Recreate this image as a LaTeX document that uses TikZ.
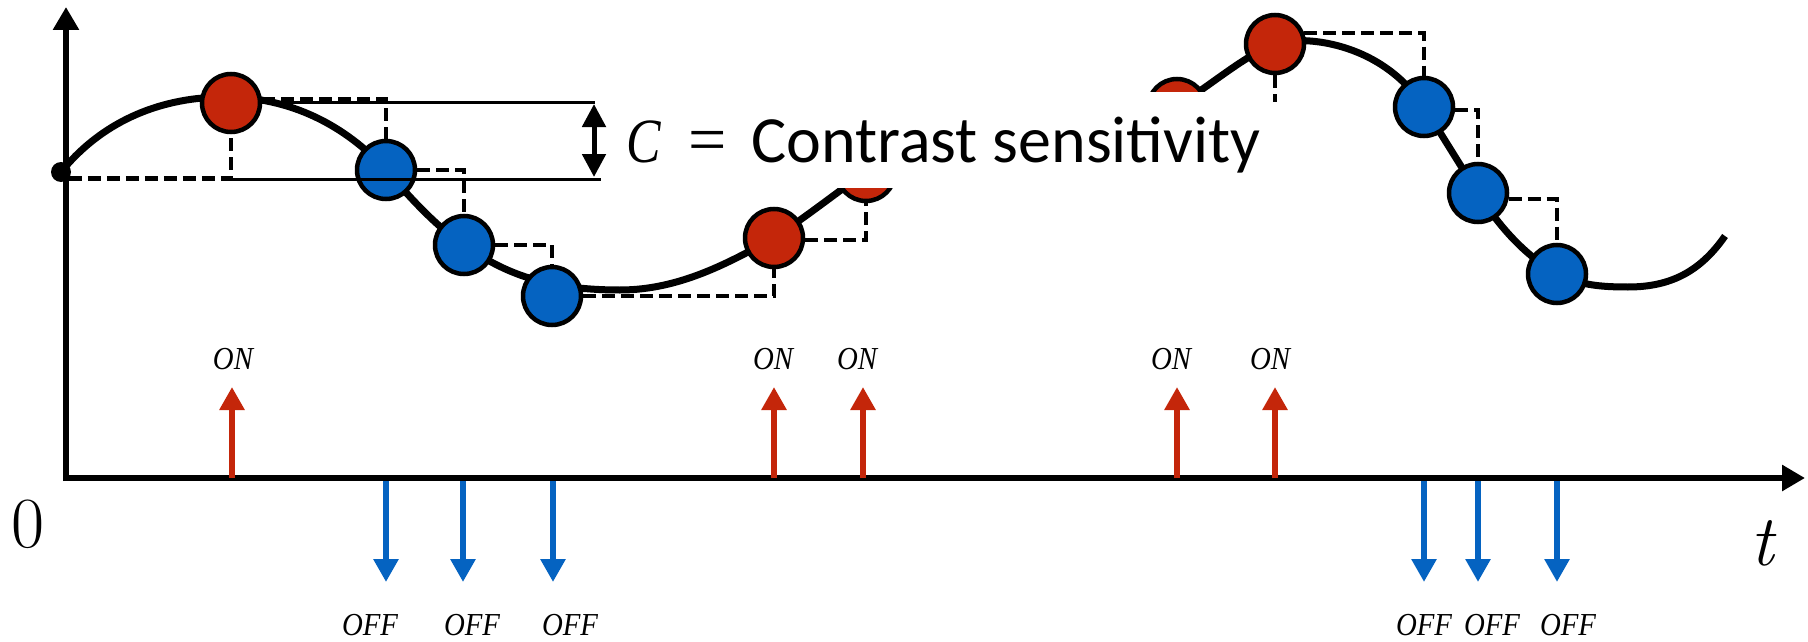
\documentclass[tikz,border=0pt]{standalone}
\usepackage{fontspec}
\newfontfamily\calibri{Carlito}
\newfontfamily\timesf{Liberation Serif}
\usetikzlibrary{arrows.meta}
\definecolor{myred}{RGB}{196,38,10}
\definecolor{myblue}{RGB}{5,99,193}
\tikzset{
  axisline/.style={line width=6pt, -{Triangle[width=25pt,length=23pt]}},
  curveline/.style={line width=7pt, line join=round},
  redc/.style={circle, draw=black, line width=4.5pt, fill=myred, minimum size=58pt, inner sep=0pt},
  bluec/.style={redc, fill=myblue},
  dsh/.style={line width=4.2pt, dash pattern=on 13pt off 6pt},
  bracketline/.style={line width=3pt},
  onarrow/.style={myred, line width=6pt, -{Triangle[width=24pt,length=23pt]}},
  offarrow/.style={myblue, line width=6pt, -{Triangle[width=24pt,length=23pt]}},
  lab/.style={inner sep=0pt, anchor=base},
  big/.style={font=\fontsize{72}{72}\selectfont, inner sep=0pt, anchor=base},
}
\newcommand{\evlab}[1]{\scalebox{0.9}[1]{\timesf\fontsize{32}{32}\selectfont\itshape #1}}
\begin{document}
\begin{tikzpicture}[x=1pt, y=-1pt]
\useasboundingbox (0,0) rectangle (1808,642);
% axes
\coordinate (Oy) at (66,481);
\coordinate (Ox) at (63,478);
\coordinate (ytip) at (66,7);
\coordinate (xtip) at (1805,478);
\draw[axisline] (Oy) -- (ytip);
\draw[axisline] (Ox) -- (xtip);
% curves
\draw[curveline] (61,172) .. controls (105,118) and (165,97) .. (225,97)
  .. controls (290,97) and (345,125) .. (386,170)
  .. controls (412,200) and (438,228) .. (464,245)
  .. controls (500,270) and (540,290) .. (620,290)
  .. controls (680,290) and (730,262) .. (774,238)
  .. controls (810,214) and (840,190) .. (866,172)
  -- (920,135);
\draw[curveline] (1120,140) -- (1177,106)
  .. controls (1210,86) and (1245,55) .. (1275,44)
  .. controls (1300,35) and (1380,40) .. (1424,107)
  .. controls (1445,140) and (1460,165) .. (1478,193)
  .. controls (1500,228) and (1525,255) .. (1557,274)
  .. controls (1580,285) and (1600,287) .. (1628,287)
  .. controls (1670,287) and (1700,272) .. (1725,236);
% sample points
\node[circle, fill=black, minimum size=20pt, inner sep=0pt] (dot) at (61,172) {};
\node[redc] (r1) at (231,103) {};
\node[bluec] (b1) at (386,170) {};
\node[bluec] (b2) at (464,245) {};
\node[bluec] (b3) at (552,296) {};
\node[redc] (r2) at (774,238) {};
\node[redc] (r3) at (866,172) {};
\node[redc] (r4) at (1177,108) {};
\node[redc] (r5) at (1275,44) {};
\node[bluec] (b4) at (1424,107) {};
\node[bluec] (b5) at (1478,193) {};
\node[bluec] (b6) at (1557,274) {};
% dashed steps
\draw[dsh] (dot.-40) -| (r1.south);
\draw[dsh] (r1.7) -| (b1.north);
\draw[dsh] (b1.east) -| (b2.north);
\draw[dsh] (b2.east) -| (b3.north);
\draw[dsh] (b3.east) -| (r2.south);
\draw[dsh] (r2.-4) -| (r3.south);
\draw[dsh] (r5.20) -| (b4.north);
\draw[dsh] (b4.-6) -| (b5.north);
\draw[dsh] (b5.-11) -| (b6.north);
\coordinate (r5d) at (1275,102);
\draw[dsh] (r5.south) -- (r5d);
% contrast bracket
\coordinate (bt1) at (262,102);
\coordinate (bt2) at (595,102);
\coordinate (bb1) at (231,179);
\coordinate (bb2) at (601,179);
\draw[bracketline] (bt1) -- (bt2);
\draw[bracketline] (bb1) -- (bb2);
\coordinate (da1) at (594,104);
\coordinate (da2) at (594,177);
\draw[line width=5pt, {Triangle[width=23pt,length=23pt]}-{Triangle[width=23pt,length=23pt]}] (da1) -- (da2);
% white label box
\node[fill=white, minimum width=652pt, minimum height=96pt, inner sep=0pt] (box) at (936,140) {};
\node[anchor=base west, inner sep=0pt] (cc) at (626,162) {\scalebox{0.82}[1]{\timesf\fontsize{63}{63}\selectfont\itshape C}};
\node[anchor=base west, inner sep=0pt] (eq) at (688,162) {\timesf\fontsize{68}{68}\selectfont =};
\node[anchor=base west, inner sep=0pt, font=\calibri\fontsize{66}{66}\selectfont] (ctext) at (751,162) {Contrast sensitivity};
% events
\foreach \x/\lx [count=\i] in {232/233, 774/773, 863/857, 1177/1171, 1275/1270} {
  \draw[onarrow] (\x,478) -- (\x,387);
  \node[lab] (on\i) at (\lx,369) {\evlab{ON}};
}
\foreach \x/\lx [count=\i] in {386/370, 463/472, 553/570, 1424/1424, 1478/1492, 1557/1568} {
  \draw[offarrow] (\x,481) -- (\x,582);
  \node[lab] (off\i) at (\lx,635) {\evlab{OFF}};
}
% axis labels
\node[big] (zero) at (28,547) {0};
\node[big] (tlab) at (1762,565) {\itshape t};
\end{tikzpicture}
\end{document}
